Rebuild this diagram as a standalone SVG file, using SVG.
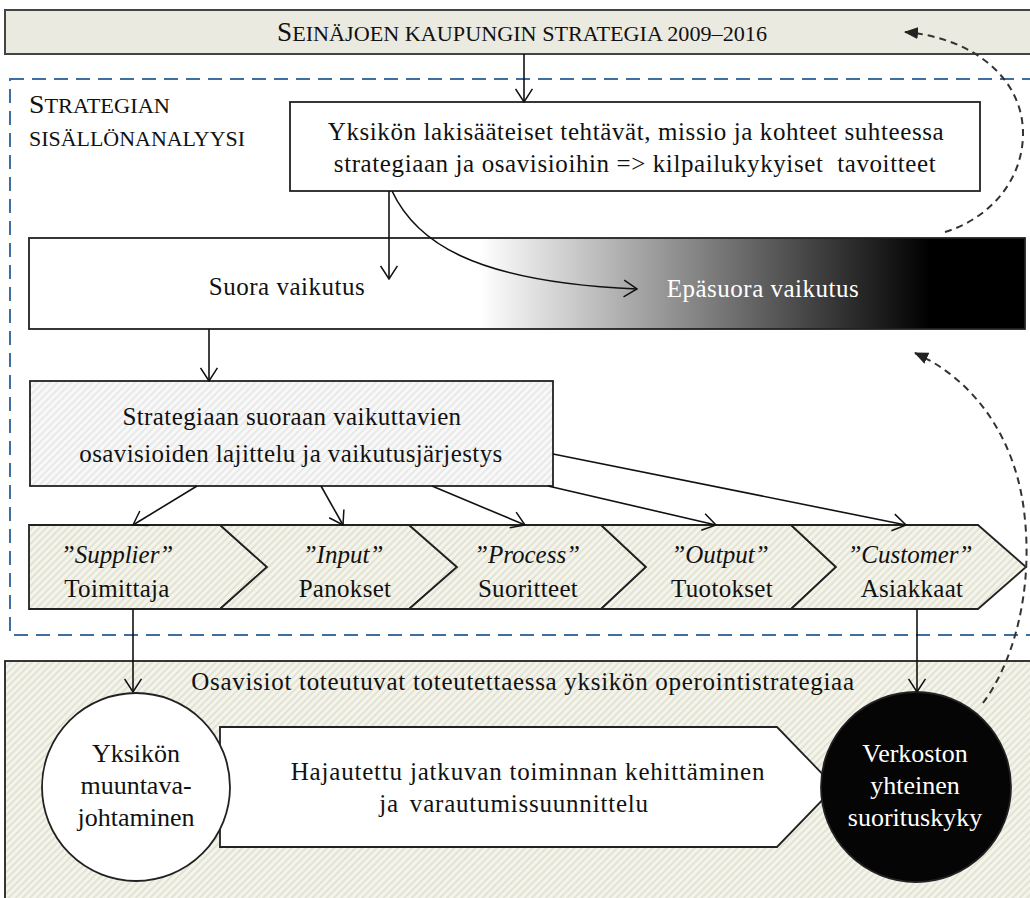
<svg xmlns="http://www.w3.org/2000/svg" width="1030" height="898" viewBox="0 0 1030 898">
<style>
.t{font-family:"Liberation Serif","Times New Roman",serif;fill:#111;}
.m{text-anchor:middle;}
.w{fill:#fff;}
.box{stroke:#222;stroke-width:1.8;}
.ln{stroke:#111;stroke-width:1.6;fill:none;}
.dash{stroke:#333;stroke-width:2;fill:none;stroke-dasharray:7 5;}
</style>
<defs>
<marker id="open" viewBox="0 0 16 20" refX="15" refY="10" markerWidth="15" markerHeight="19" markerUnits="userSpaceOnUse" orient="auto">
<path d="M1,1 L15,10 L1,19" fill="none" stroke="#111" stroke-width="1.6"/>
</marker>
<marker id="solid" viewBox="0 0 14 12" refX="13" refY="6" markerWidth="14" markerHeight="12" markerUnits="userSpaceOnUse" orient="auto">
<path d="M0,0 L14,6 L0,12 Z" fill="#222"/>
</marker>
<pattern id="hatchBeige" width="5" height="5" patternUnits="userSpaceOnUse" patternTransform="rotate(45)">
<rect width="5" height="5" fill="#f4f4ec"/>
<line x1="1" y1="0" x2="1" y2="5" stroke="#dadac8" stroke-width="1.3"/>
</pattern>
<pattern id="hatchGray" width="5" height="5" patternUnits="userSpaceOnUse" patternTransform="rotate(45)">
<rect width="5" height="5" fill="#f8f8f8"/>
<line x1="1" y1="0" x2="1" y2="5" stroke="#e2e2e2" stroke-width="1.3"/>
</pattern>
<linearGradient id="impactGrad" gradientUnits="userSpaceOnUse" x1="480" y1="0" x2="930" y2="0">
<stop offset="0" stop-color="#ffffff"/>
<stop offset="1" stop-color="#000000"/>
</linearGradient>
</defs>

<g id="implementation">
<rect x="5" y="661" width="1035" height="250" fill="url(#hatchBeige)" class="box"/>
<text class="t m" x="523" y="690" font-size="25" letter-spacing="0.7">Osavisiot toteutuvat toteutettaessa yksikön operointistrategiaa</text>
</g>

<g id="development">
<polygon points="220,727 777,727 835,787 777,847 220,847" fill="#fff" class="box"/>
<text class="t m" x="528" y="780" font-size="25" letter-spacing="0.8">Hajautettu jatkuvan toiminnan kehittäminen</text>
<text class="t m" x="514" y="812" font-size="25" letter-spacing="0.8" word-spacing="4">ja varautumissuunnittelu</text>
</g>

<g id="transformative-leadership">
<circle cx="136" cy="787" r="94" fill="#fff" class="box"/>
<text class="t m" x="136" y="762" font-size="26">Yksikön</text>
<text class="t m" x="136" y="794" font-size="26">muuntava-</text>
<text class="t m" x="136" y="826" font-size="26">johtaminen</text>
</g>

<g id="network-performance">
<circle cx="916" cy="787" r="95" fill="#050505" class="box"/>
<text class="t m w" x="915" y="762" font-size="26">Verkoston</text>
<text class="t m w" x="915" y="794" font-size="26">yhteinen</text>
<text class="t m w" x="915" y="826" font-size="26">suorituskyky</text>
</g>

<g id="strategy">
<rect x="5" y="10" width="1035" height="44" fill="#ebeae0" stroke="#444" stroke-width="2"/>
<text class="t" x="277" y="41" textLength="490" lengthAdjust="spacingAndGlyphs"><tspan font-size="27">S</tspan><tspan font-size="22">EINÄJOEN KAUPUNGIN STRATEGIA 2009–2016</tspan></text>
</g>

<g id="content-analysis">
<rect x="10" y="79" width="1040" height="556" fill="none" stroke="#3f6f9f" stroke-width="2" stroke-dasharray="14 8"/>
<text class="t" x="29" y="113" textLength="141" lengthAdjust="spacingAndGlyphs"><tspan font-size="26">S</tspan><tspan font-size="21">TRATEGIAN</tspan></text>
<text class="t" x="29" y="146" font-size="21" textLength="216" lengthAdjust="spacingAndGlyphs">SISÄLLÖNANALYYSI</text>
</g>

<g id="unit-tasks">
<rect x="290" y="102" width="690" height="89" fill="#fff" class="box"/>
<text class="t m" x="636" y="140" font-size="25" letter-spacing="0.6">Yksikön lakisääteiset tehtävät, missio ja kohteet suhteessa</text>
<text class="t m" x="635" y="172" font-size="25" letter-spacing="0.6" xml:space="preserve">strategiaan ja osavisioihin =&gt; kilpailukykyiset  tavoitteet</text>
</g>

<g id="impact">
<rect x="29" y="238" width="996" height="91" fill="url(#impactGrad)" class="box"/>
<text class="t m" x="287" y="295" font-size="25" letter-spacing="0.5">Suora vaikutus</text>
<text class="t m w" x="763" y="297" font-size="25" letter-spacing="0.5">Epäsuora vaikutus</text>
</g>

<g id="sorting">
<rect x="30" y="381" width="523" height="105" fill="url(#hatchGray)" class="box"/>
<text class="t m" x="292" y="425" font-size="25" letter-spacing="0.4">Strategiaan suoraan vaikuttavien</text>
<text class="t m" x="291" y="462" font-size="25" letter-spacing="0.4">osavisioiden lajittelu ja vaikutusjärjestys</text>
</g>

<g id="supplier">
<polygon points="29,525 220,525 267,567 220,609 29,609" fill="url(#hatchBeige)" class="box"/>
<text class="t m" x="117" y="563" font-size="25" font-style="italic">”Supplier”</text>
<text class="t m" x="117" y="597" font-size="25" letter-spacing="0.3">Toimittaja</text>
</g>
<g id="input">
<polygon points="220,525 409,525 457,567 409,609 220,609 267,567" fill="url(#hatchBeige)" class="box"/>
<text class="t m" x="343" y="563" font-size="25" font-style="italic">”Input”</text>
<text class="t m" x="345" y="597" font-size="25" letter-spacing="0.3">Panokset</text>
</g>
<g id="process">
<polygon points="409,525 601,525 646,567 601,609 409,609 457,567" fill="url(#hatchBeige)" class="box"/>
<text class="t m" x="527" y="563" font-size="25" font-style="italic">”Process”</text>
<text class="t m" x="528" y="597" font-size="25" letter-spacing="0.3">Suoritteet</text>
</g>
<g id="output">
<polygon points="601,525 791,525 836,567 791,609 601,609 646,567" fill="url(#hatchBeige)" class="box"/>
<text class="t m" x="720" y="563" font-size="25" font-style="italic">”Output”</text>
<text class="t m" x="722" y="597" font-size="25" letter-spacing="0.3">Tuotokset</text>
</g>
<g id="customer">
<polygon points="791,525 978,525 1026,567 978,609 791,609 836,567" fill="url(#hatchBeige)" class="box"/>
<text class="t m" x="910" y="563" font-size="25" font-style="italic">”Customer”</text>
<text class="t m" x="912" y="597" font-size="25" letter-spacing="0.3">Asiakkaat</text>
</g>

<g id="connectors">
<line class="ln" x1="524" y1="54" x2="524" y2="102" marker-end="url(#open)"/>
<line class="ln" x1="389" y1="191" x2="389" y2="279" marker-end="url(#open)"/>
<path class="ln" d="M392,191 C415,240 470,282 637,289" marker-end="url(#open)"/>
<line class="ln" x1="209" y1="329" x2="209" y2="381" marker-end="url(#open)"/>
<line class="ln" x1="197" y1="486" x2="133" y2="525" marker-end="url(#open)"/>
<line class="ln" x1="321" y1="486" x2="343" y2="525" marker-end="url(#open)"/>
<line class="ln" x1="432" y1="486" x2="525" y2="525" marker-end="url(#open)"/>
<line class="ln" x1="548" y1="486" x2="716" y2="525" marker-end="url(#open)"/>
<line class="ln" x1="553" y1="454" x2="906" y2="525" marker-end="url(#open)"/>
<line class="ln" x1="133" y1="609" x2="133" y2="692" marker-end="url(#open)"/>
<line class="ln" x1="917" y1="609" x2="917" y2="692" marker-end="url(#open)"/>
<path class="dash" d="M945,232 C985,220 1022,185 1023,135 C1024,80 975,38 905,32" marker-end="url(#solid)"/>
<path class="dash" d="M983,703 C1015,660 1032,590 1025,520 C1018,440 975,380 915,353" marker-end="url(#solid)"/>
</g>
</svg>
